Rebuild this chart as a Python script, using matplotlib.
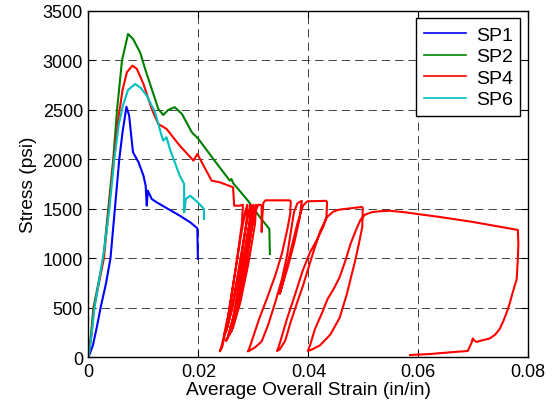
import matplotlib
matplotlib.use("Agg")
import matplotlib.pyplot as plt

plt.rcParams['font.family'] = ['Liberation Sans', 'DejaVu Sans']

# ---------------- data (strain in/in, stress psi) ----------------
sp1_strain = [0, 0.0008, 0.0015, 0.0022, 0.0032, 0.0040, 0.0048, 0.0056, 0.0062, 0.0069,
              0.0074, 0.0079, 0.0081, 0.0091, 0.0100, 0.0104, 0.0106, 0.0108, 0.0115,
              0.0124, 0.0166, 0.0185, 0.0198, 0.0199]
sp1_stress = [0, 120, 300, 500, 750, 1000, 1500, 2000, 2275, 2530,
              2440, 2170, 2070, 1970, 1834, 1733, 1531, 1683, 1599,
              1565, 1430, 1363, 1303, 993]

sp2_strain = [0, 0.0004, 0.0009, 0.0018, 0.0027, 0.0036, 0.0045, 0.0052, 0.0061, 0.0072,
              0.0081, 0.0094, 0.0103, 0.0115, 0.0127, 0.0136, 0.0145, 0.0157, 0.0170,
              0.0188, 0.0200, 0.0227, 0.0257, 0.0260, 0.0263, 0.0290, 0.0312, 0.0329, 0.0330]
sp2_stress = [0, 200, 500, 750, 1000, 1500, 2000, 2500, 3000, 3265,
              3215, 3078, 2912, 2710, 2508, 2447, 2498, 2525, 2457,
              2272, 2205, 2003, 1784, 1801, 1760, 1582, 1414, 1296, 1043]

sp4_strain = [0, 0.0006, 0.0010, 0.0019, 0.0028, 0.0037, 0.0046, 0.0054, 0.0062, 0.0070, 0.0080,
              0.0088, 0.0100, 0.0115, 0.0127, 0.0142, 0.0166, 0.0191, 0.0198, 0.0206,
              0.0224, 0.0239, 0.0263, 0.0265, 0.0275, 0.0281,
              # dense cycles
              0.0279, 0.0268, 0.0255, 0.0243, 0.0239, 0.0243, 0.0251, 0.0265, 0.0278, 0.0285, 0.0289,
              0.0287, 0.0275, 0.0261, 0.0250, 0.0247, 0.0251, 0.0259, 0.0272, 0.0285, 0.0292, 0.0295,
              0.0293, 0.0281, 0.0266, 0.0253, 0.0250, 0.0254, 0.0263, 0.0277, 0.0290, 0.0297, 0.0300,
              0.0298, 0.0286, 0.0272, 0.0261, 0.0257, 0.0261, 0.0270, 0.0283, 0.0295, 0.0302, 0.0305,
              0.0303, 0.0291, 0.0276, 0.0263, 0.0255, 0.0260, 0.0270, 0.0285, 0.0298, 0.0305, 0.0309,
              0.0313, 0.0315, 0.0315, 0.0316, 0.0318, 0.0322, 0.0366,
              # cycle to 0.029
              0.0368, 0.0367, 0.0362, 0.0352, 0.0340, 0.0325, 0.0310, 0.0298, 0.0292, 0.0290,
              0.0294, 0.0303, 0.0315, 0.0327, 0.0340, 0.0352, 0.0362, 0.0369, 0.0374, 0.0380, 0.0388,
              # partial unloading
              0.0384, 0.0374, 0.0362, 0.0352, 0.0348, 0.0351, 0.0358, 0.0368, 0.0380, 0.0390,
              0.0398, 0.0432,
              # cycle to 0.034
              0.0434, 0.0433, 0.0428, 0.0415, 0.0403, 0.0390, 0.0375, 0.0361, 0.0350, 0.0345, 0.0343,
              0.0348, 0.0358, 0.0368, 0.0380, 0.0390, 0.0400, 0.0410, 0.0422, 0.0434, 0.0445,
              0.0455, 0.0470, 0.0497,
              # cycle to 0.040
              0.0499, 0.0498, 0.0492, 0.0485, 0.0470, 0.0457, 0.0440, 0.0421, 0.0405, 0.0399,
              0.0403, 0.0412, 0.0425, 0.0435, 0.0447, 0.0457, 0.0467, 0.0477, 0.0487, 0.0495,
              0.0503, 0.0515, 0.0530, 0.0548, 0.0575, 0.0597, 0.0639, 0.0699, 0.0781,
              # final unloading
              0.0782, 0.0781, 0.0779, 0.0772, 0.0766, 0.0761, 0.0755, 0.0748, 0.0740, 0.0730,
              0.0715, 0.0706, 0.0701, 0.0699, 0.0697, 0.0693, 0.0690, 0.0666, 0.0640, 0.0621, 0.0585]
sp4_stress = [0, 250, 500, 750, 1000, 1500, 2000, 2400, 2700, 2880, 2945,
              2912, 2760, 2508, 2356, 2306, 2137, 1986, 2053, 1970,
              1784, 1767, 1717, 1531, 1531, 1540,
              1350, 900, 450, 130, 60, 100, 300, 800, 1250, 1470, 1540,
              1350, 900, 480, 260, 230, 270, 450, 850, 1280, 1480, 1540,
              1350, 900, 450, 200, 165, 200, 400, 850, 1280, 1480, 1540,
              1350, 900, 520, 330, 300, 340, 550, 950, 1320, 1490, 1540,
              1350, 950, 550, 300, 220, 260, 480, 950, 1330, 1490, 1540,
              1540, 1530, 1265, 1400, 1560, 1585, 1585,
              1575, 1450, 1300, 1050, 830, 600, 380, 180, 80, 60,
              70, 100, 160, 330, 560, 790, 1050, 1300, 1470, 1555, 1580,
              1400, 1150, 900, 720, 640, 700, 850, 1080, 1350, 1530,
              1575, 1580,
              1570, 1420, 1330, 1180, 1060, 880, 620, 387, 180, 90, 64,
              80, 170, 360, 560, 720, 900, 1080, 1280, 1417, 1470,
              1490, 1500, 1518,
              1510, 1316, 1150, 973, 639, 400, 230, 120, 75, 64,
              120, 286, 450, 589, 700, 811, 970, 1150, 1290, 1390,
              1440, 1465, 1475, 1480, 1465, 1448, 1417, 1367, 1286,
              1150, 993, 791, 660, 540, 457, 370, 286, 230, 190,
              170, 155, 175, 190, 150, 100, 64, 54, 42, 33, 23]

sp6_strain = [0, 0.0005, 0.0011, 0.0020, 0.0029, 0.0038, 0.0047, 0.0055, 0.0063, 0.0072,
              0.0085, 0.0095, 0.0106, 0.0121, 0.0133, 0.0136, 0.0142, 0.0148, 0.0166,
              0.0174, 0.0174, 0.0177, 0.0185, 0.0200, 0.0210, 0.0210]
sp6_stress = [0, 200, 500, 800, 1100, 1500, 2000, 2350, 2550, 2700,
              2760, 2720, 2642, 2475, 2238, 2188, 2222, 2104, 1834,
              1750, 1465, 1599, 1632, 1558, 1498, 1397]

series_names = ['SP1', 'SP2', 'SP4', 'SP6']
series_colors = ['#0000ff', '#008000', '#ff0000', '#00bfbf']

x_ticks = [0, 0.02, 0.04, 0.06, 0.08]
x_tick_labels = ['0', '0.02', '0.04', '0.06', '0.08']
y_ticks = [0, 500, 1000, 1500, 2000, 2500, 3000, 3500]

# ---------------- plot ----------------
fig = plt.figure(figsize=(5.52, 4.10), dpi=100)
ax = fig.add_axes([0.1603, 0.1261, 0.957 - 0.1603, 0.9715 - 0.1261])

data = [(sp1_strain, sp1_stress), (sp2_strain, sp2_stress),
        (sp4_strain, sp4_stress), (sp6_strain, sp6_stress)]
for (xs, ys), name, col in zip(data, series_names, series_colors):
    ax.plot(xs, ys, color=col, lw=1.5, label=name, solid_joinstyle='round')

ax.set_xlim(0, 0.08)
ax.set_ylim(0, 3500)
ax.set_xticks(x_ticks)
ax.set_xticklabels(x_tick_labels)
ax.set_yticks(y_ticks)
ax.tick_params(direction='in', top=True, right=True, length=5, width=0.8,
               labelsize=13, pad=4)
for s in ax.spines.values():
    s.set_linewidth(1.0)
ax.grid(True, color='#222222', linestyle=(0, (10, 6)), linewidth=0.6)
ax.set_axisbelow(True)
ax.set_xlabel('Average Overall Strain (in/in)', fontsize=13.8, labelpad=1)
ax.set_ylabel('Stress (psi)', fontsize=13.8, labelpad=4)

leg = ax.legend(loc='upper right', fontsize=14, frameon=True, fancybox=False,
                framealpha=1, edgecolor='black', borderpad=0.4, handlelength=2.15,
                labelspacing=0.2, handletextpad=0.5, borderaxespad=0.4)
leg.get_frame().set_linewidth(1.0)
for l in leg.get_lines():
    l.set_linewidth(1.2)

fig.savefig('out.png', dpi=100)
